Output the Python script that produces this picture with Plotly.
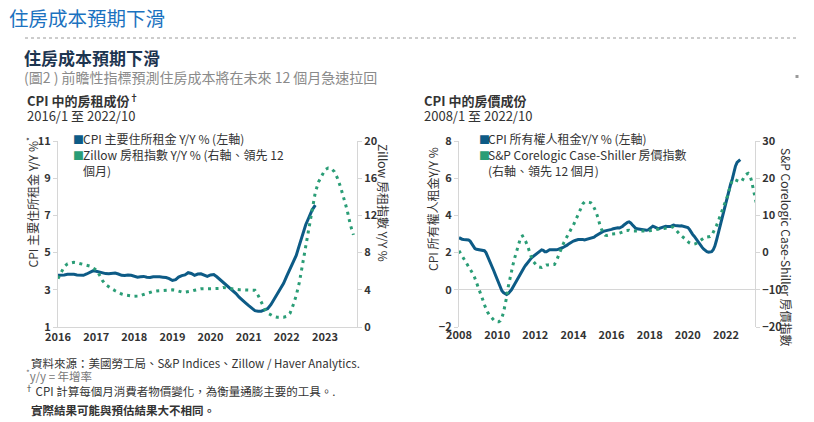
import pandas as pd
import plotly.graph_objects as go

# ---------------- data ----------------
# Left panel: CPI rent of primary residence Y/Y % (left axis), 2016/1 - 2022/10
cpi_rent = [
    3.78, 3.78, 3.80, 3.83, 3.85, 3.83, 3.80, 3.77, 3.78, 3.85, 3.95, 4.02,   # 2016
    4.00, 3.95, 3.90, 3.87, 3.86, 3.88, 3.90, 3.85, 3.78, 3.77, 3.80, 3.78,   # 2017
    3.72, 3.68, 3.70, 3.72, 3.68, 3.66, 3.70, 3.72, 3.70, 3.68, 3.66, 3.60,   # 2018
    3.50, 3.55, 3.68, 3.76, 3.80, 3.92, 3.88, 3.78, 3.85, 3.86, 3.78, 3.72,   # 2019
    3.80, 3.82, 3.70, 3.55, 3.40, 3.25, 3.10, 3.00, 2.80, 2.60, 2.42, 2.30,   # 2020
    2.15, 2.00, 1.88, 1.85, 1.85, 1.92, 1.98, 2.20, 2.50, 2.80, 3.10, 3.35,   # 2021
    3.75, 4.10, 4.50, 4.85, 5.40, 5.95, 6.50, 6.90, 7.30, 7.55,               # 2022
]
cpi_rent_start = "2016-01-01"

# Zillow rent index Y/Y % (right axis, led 12 months), plotted 2016/1 - 2023/10
zillow = [
    5.2, 5.9, 6.5, 6.8, 6.9, 6.95, 6.9, 6.8, 6.75, 6.65, 6.55, 6.35,          # 2016
    6.15, 5.6, 5.0, 4.55, 4.3, 4.1, 3.9, 3.7, 3.55, 3.45, 3.38, 3.32,         # 2017
    3.3, 3.32, 3.36, 3.5, 3.62, 3.75, 3.82, 3.87, 3.9, 3.95, 4.0, 4.0,        # 2018
    4.0, 3.95, 3.85, 3.76, 3.74, 3.76, 3.85, 3.95, 4.05, 4.1, 4.1, 4.1,       # 2019
    4.1, 4.08, 4.07, 4.15, 4.25, 4.2, 4.1, 4.07, 4.02, 4.0, 4.0, 4.0,         # 2020
    4.0, 4.02, 3.95, 3.4, 2.6, 1.95, 1.5, 1.28, 1.12, 1.04, 1.02, 1.05,       # 2021
    1.15, 1.5, 2.3, 3.4, 4.8, 6.8, 8.6, 10.5, 12.8, 14.5, 15.6, 16.3,         # 2022
    16.9, 17.1, 17.05, 16.7, 16.0, 15.0, 13.8, 12.6, 11.0, 9.9,               # 2023
]
zillow_start = "2016-01-01"

# Right panel: CPI owners' equivalent rent Y/Y % (left axis), 2008/1 - 2022/10
cpi_oer = [
    2.80, 2.75, 2.72, 2.70, 2.70, 2.70, 2.68, 2.62, 2.50, 2.35, 2.22, 2.18,   # 2008
    2.16, 2.15, 2.15, 2.14, 2.10, 2.00, 1.82, 1.60, 1.40, 1.20, 1.00, 0.78,   # 2009
    0.55, 0.33, 0.12, -0.05, -0.15, -0.22, -0.25, -0.20, -0.12, 0.00, 0.15, 0.30,  # 2010
    0.45, 0.62, 0.80, 0.95, 1.10, 1.20, 1.32, 1.45, 1.57, 1.65, 1.75, 1.82,   # 2011
    1.90, 1.95, 2.02, 2.10, 2.15, 2.12, 2.05, 2.05, 2.10, 2.15, 2.15, 2.14,   # 2012
    2.15, 2.15, 2.16, 2.18, 2.22, 2.26, 2.30, 2.34, 2.40, 2.47, 2.53, 2.58,   # 2013
    2.62, 2.65, 2.68, 2.70, 2.70, 2.72, 2.70, 2.68, 2.70, 2.72, 2.74, 2.76,   # 2014
    2.78, 2.83, 2.90, 2.95, 3.00, 3.07, 3.12, 3.15, 3.17, 3.18, 3.20, 3.22,   # 2015
    3.25, 3.28, 3.30, 3.35, 3.33, 3.32, 3.35, 3.42, 3.50, 3.58, 3.63, 3.65,   # 2016
    3.60, 3.50, 3.38, 3.32, 3.28, 3.26, 3.24, 3.24, 3.22, 3.20, 3.20, 3.22,   # 2017
    3.30, 3.38, 3.42, 3.38, 3.33, 3.30, 3.30, 3.34, 3.38, 3.42, 3.42, 3.40,   # 2018
    3.38, 3.40, 3.44, 3.48, 3.46, 3.44, 3.42, 3.43, 3.44, 3.42, 3.40, 3.39,   # 2019
    3.35, 3.25, 3.10, 2.98, 2.88, 2.75, 2.62, 2.52, 2.40, 2.28, 2.18, 2.10,   # 2020
    2.05, 2.02, 2.02, 2.05, 2.15, 2.35, 2.65, 3.00, 3.40, 3.80, 4.15, 4.50,   # 2021
    4.85, 5.10, 5.40, 5.70, 5.95, 6.35, 6.65, 6.85, 6.95, 7.00,               # 2022
]
cpi_oer_start = "2008-01-01"

# S&P Corelogic Case-Shiller home price index Y/Y % (right axis, led 12 months)
case_shiller = [
    0.5, -0.2, -0.9, -1.6, -2.4, -3.0, -3.6, -4.2, -5.0, -5.9, -6.9, -8.0,             # 2008
    -9.0, -10.2, -11.4, -12.7, -14.0, -15.1, -16.0, -16.7, -17.3, -17.8, -18.2, -18.5,  # 2009
    -18.6, -18.6, -18.3, -17.5, -16.2, -14.3, -12.0, -9.2, -6.8, -5.0, -3.2, -1.5,      # 2010
    0.0, 1.5, 3.0, 4.3, 4.5, 3.8, 3.0, 2.0, 0.6, -0.9, -1.8, -2.5,                      # 2011
    -3.1, -3.5, -3.8, -4.0, -4.0, -3.7, -3.4, -3.3, -3.3, -3.3, -3.3, -3.3,             # 2012
    -3.2, -2.5, -1.4, -0.3, 0.7, 1.7, 2.7, 3.6, 4.4, 5.2, 6.0, 6.7,                     # 2013
    7.4, 8.4, 9.5, 10.5, 11.5, 12.4, 13.1, 13.6, 13.7, 13.6, 13.5, 13.4,                # 2014
    13.0, 12.2, 11.2, 10.0, 8.4, 7.0, 6.0, 5.2, 4.7, 4.6, 4.6, 4.8,                     # 2015
    5.0, 5.1, 5.1, 5.1, 5.1, 5.2, 5.4, 5.5, 5.7, 5.9, 6.0, 6.0,                         # 2016
    5.8, 5.8, 5.8, 5.8, 5.7, 5.6, 5.6, 5.6, 5.7, 5.8, 5.8, 5.8,                         # 2017
    5.9, 6.0, 6.1, 6.2, 6.3, 6.4, 6.5, 6.5, 6.5, 6.5, 6.5, 6.6,                         # 2018
    6.7, 6.8, 6.9, 6.8, 6.3, 5.7, 5.2, 4.9, 4.5, 4.2, 3.8, 3.3,                         # 2019
    2.9, 2.6, 2.4, 2.3, 2.3, 2.4, 2.7, 3.0, 3.4, 3.8, 4.1, 4.2,                         # 2020
    4.2, 4.2, 4.3, 4.6, 5.4, 6.4, 7.2, 8.3, 9.4, 10.5, 11.7, 12.8,                      # 2021
    14.0, 15.3, 16.8, 18.5, 19.5, 19.7, 19.5, 19.3, 19.1, 19.0, 19.2, 20.0,             # 2022
    20.8, 21.1, 21.3, 20.8, 19.5, 17.5, 15.5, 13.5,                                     # 2023
]
case_shiller_start = "2008-01-01"

left_years = [str(y) for y in range(2016, 2024)]
right_years = [str(y) for y in range(2008, 2023, 2)]

# ---------------- styling ----------------
W, H = 814, 422
NAVY = "#0d5b86"
GREEN = "#2a9d76"
AXIS = "#d6d6d6"
TXT = "#333333"
FONT = "Noto Sans CJK TC"
DOTS = "3px,4.5px"


def fx(p):
    return p / W


def fy(p):
    return 1 - p / H


def months(start, n):
    return pd.date_range(start, periods=n, freq="MS")


fig = go.Figure()
fig.add_trace(go.Scatter(x=months(zillow_start, len(zillow)), y=zillow, xaxis="x", yaxis="y2",
                         mode="lines", line=dict(color=GREEN, width=3, dash=DOTS),
                         showlegend=False, name="Zillow"))
fig.add_trace(go.Scatter(x=months(cpi_rent_start, len(cpi_rent)), y=cpi_rent, xaxis="x", yaxis="y",
                         mode="lines", line=dict(color=NAVY, width=3),
                         showlegend=False, name="CPI rent"))
fig.add_trace(go.Scatter(x=months(case_shiller_start, len(case_shiller)), y=case_shiller,
                         xaxis="x2", yaxis="y4", mode="lines",
                         line=dict(color=GREEN, width=3, dash=DOTS),
                         showlegend=False, name="Case-Shiller"))
fig.add_trace(go.Scatter(x=months(cpi_oer_start, len(cpi_oer)), y=cpi_oer, xaxis="x2", yaxis="y3",
                         mode="lines", line=dict(color=NAVY, width=3),
                         showlegend=False, name="CPI OER"))

tickfont = dict(family=FONT, size=11, color=TXT, weight=600)
ydom = [fy(327), fy(141)]

common_y = dict(showgrid=False, zeroline=False, showline=True, linecolor=AXIS, linewidth=1,
                ticks="outside", ticklen=4, tickcolor=AXIS, tickfont=tickfont, fixedrange=True,
                automargin=False)

fig.update_layout(
    width=W, height=H,
    margin=dict(l=0, r=0, t=0, b=0, pad=0, autoexpand=False),
    paper_bgcolor="white", plot_bgcolor="white",
    font=dict(family=FONT, color=TXT),
    showlegend=False,
    xaxis=dict(domain=[fx(58), fx(357)], type="date", range=["2016-01-01", "2023-11-04"],
               tickvals=[f"{y}-01-01" for y in left_years], ticktext=left_years,
               showgrid=False, zeroline=False, showline=True, linecolor=AXIS, ticks="",
               tickfont=tickfont, anchor="y", automargin=False, fixedrange=True),
    yaxis=dict(domain=ydom, range=[1, 11], tickvals=[1, 3, 5, 7, 9, 11], anchor="x", **common_y),
    yaxis2=dict(range=[0, 20], tickvals=[0, 4, 8, 12, 16, 20], overlaying="y", side="right",
                anchor="x", **common_y),
    xaxis2=dict(domain=[fx(459), fx(755)], type="date", range=["2008-01-01", "2023-07-10"],
                tickvals=[f"{y}-01-01" for y in right_years], ticktext=right_years,
                showgrid=False, zeroline=False, showline=False, ticks="",
                tickfont=tickfont, anchor="y3", automargin=False, fixedrange=True),
    yaxis3=dict(domain=ydom, range=[-2, 8], tickvals=[-2, 0, 2, 4, 6, 8], anchor="x2",
                **{**common_y, "zeroline": True, "zerolinecolor": AXIS, "zerolinewidth": 1}),
    yaxis4=dict(range=[-20, 30], tickvals=[-20, -10, 0, 10, 20, 30], overlaying="y3",
                side="right", anchor="x2", **common_y),
)

ann = []


def text(x, y, s, size, color=TXT, bold=False, anchor="left", angle=0):
    ann.append(dict(x=fx(x), y=fy(y), xref="paper", yref="paper", text=s, showarrow=False,
                    xanchor=anchor, yanchor="middle", textangle=angle, align="left",
                    font=dict(family=FONT, size=size, color=color,
                              weight="bold" if bold else "normal")))


# headers
text(7, 17, "住房成本預期下滑", 19.5, color="#1b72c0")
text(22, 57, "住房成本預期下滑", 17, color="#1d3550", bold=True)
text(22, 77, "(圖2 ) 前瞻性指標預測住房成本將在未來 12 個月急速拉回", 14, color="#8a8a8a")

# panel titles
text(25, 100, "CPI 中的房租成份<sup>†</sup>", 13, bold=True)
text(25, 115.5, "2016/1 至 2022/10", 13)
text(422, 100, "CPI 中的房價成份", 13, bold=True)
text(422, 115.5, "2008/1 至 2022/10", 13)

# legends
text(70.5, 138.5, f"<span style='color:{NAVY}'>■</span>", 11)
text(81, 138.5, "CPI 主要住所租金 Y/Y % (左軸)", 12)
text(70.5, 155, f"<span style='color:{GREEN}'>■</span>", 11)
text(81, 155, "Zillow 房租指數 Y/Y % (右軸、領先 12", 12)
text(81, 170, "個月)", 12)

text(477, 138.5, f"<span style='color:{NAVY}'>■</span>", 11)
text(486, 138.5, "CPI 所有權人租金Y/Y % (左軸)", 12)
text(477, 155, f"<span style='color:{GREEN}'>■</span>", 11)
text(486, 155, "S&P Corelogic Case-Shiller 房價指數", 12)
text(486, 170, "(右軸、領先 12 個月)", 12)

# axis titles
text(31.5, 203, "CPI 主要住所租金 Y/Y %<sup>*</sup>", 12, anchor="center", angle=-90)
text(384, 203, "Zillow 房租指數 Y/Y %", 12, anchor="center", angle=90)
text(432, 209, "CPI 所有權人租金Y/Y %", 12, anchor="center", angle=-90)
text(787, 247, "S&P Corelogic Case-Shiller 房價指數", 12, anchor="center", angle=90)

# footnotes
text(29, 363, "資料來源：美國勞工局、S&P Indices、Zillow / Haver Analytics.", 11.5)
text(24, 375, "<sup>*</sup>y/y = 年增率", 11.5, color="#777777")
text(23, 390, "<sup>†</sup> CPI 計算每個月消費者物價變化，為衡量通膨主要的工具。.", 11.5)
text(29, 410, "實際結果可能與預估結果大不相同。", 11.5, bold=True)

fig.update_layout(annotations=ann)

fig.update_layout(shapes=[
    dict(type="line", xref="paper", yref="paper", x0=fx(25), x1=fx(797), y0=fy(38), y1=fy(38),
         line=dict(color="#9a9a9a", width=1, dash="dot")),
    dict(type="rect", xref="paper", yref="paper", x0=fx(795.5), x1=fx(798.5), y0=fy(78), y1=fy(75),
         line=dict(width=0), fillcolor="#9a9a9a"),
])

fig.write_html("out.html", config={"displayModeBar": False},
               post_script="document.body.style.margin='0';document.body.style.overflow='hidden';")
